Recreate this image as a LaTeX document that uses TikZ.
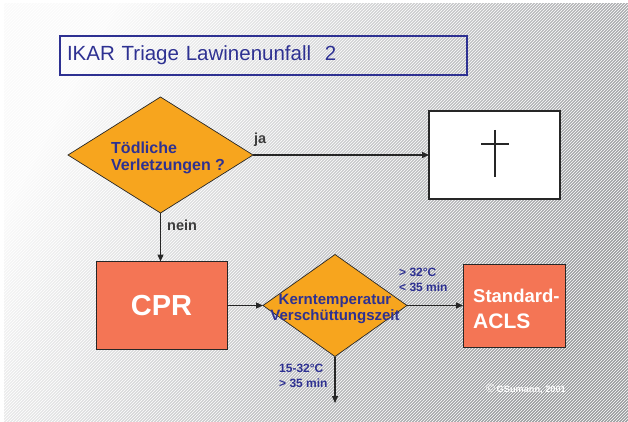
\documentclass[tikz,border=0pt]{standalone}
\usepackage{fontspec}
\setmainfont{Liberation Sans}
\usetikzlibrary{shapes.geometric,arrows.meta,patterns}
\definecolor{titelblau}{HTML}{2E3192}
\definecolor{raute}{HTML}{F7A51E}
\definecolor{lachs}{HTML}{F47555}
\definecolor{linie}{HTML}{262626}
\definecolor{hellgrau}{HTML}{FAFAFA}
\definecolor{dunkelgrau}{HTML}{9A9C9F}

\begin{document}
\begin{tikzpicture}[x=1pt,y=-1pt]
  \tikzset{DecisionStyle/.style = {
  shape = diamond,
  fill = raute,
  draw = linie,
  line width = 0.7pt,
  inner sep = 0pt,
  outer sep = 0pt},
  BoxStyle/.style = {
  shape = rectangle,
  fill = lachs,
  draw = linie,
  line width = 0.9pt,
  outer sep = 0pt,
  text = white,
  font = \bfseries},
  QuestionStyle/.style = {
  text = titelblau,
  inner sep = 0pt,
  font = \bfseries},
  PfeilStyle/.style = {
  draw = linie,
  line width = 1.3pt,
  -{Triangle[length=7pt,width=6pt]}},
  AstStyle/.style = {
  text = linie!90,
  inner sep = 0pt,
  font = \bfseries\fontsize{14.5}{16}\selectfont}}
  % Hintergrund
  \fill[white] (0,0) rectangle (628,422);
  \shade[top color=hellgrau, bottom color=dunkelgrau, shading angle=62] (4,4) rectangle (628,422);
  \fill[pattern=north east lines, pattern color=white, fill opacity=0.22] (4,4) rectangle (628,422);
  % Titel
  \node[draw=titelblau, line width=1.3pt, minimum width=407pt, minimum height=39pt,
        text width=393pt, inner xsep=7pt, align=left, text=titelblau,
        font=\fontsize{20.5}{22}\selectfont] (titel) at (263.5,55.5) {IKAR Triage Lawinenunfall\ \ 2};
  % Knoten
  \node[DecisionStyle, minimum width=185pt, minimum height=116pt] (toedlich) at (160.5,155) {};
  \node[QuestionStyle, anchor=west, align=left, font=\bfseries\fontsize{16}{17.7}\selectfont] (toedlichtext) at (111,158) {Tödliche\\Verletzungen ?};
  \node[draw=linie, line width=1.1pt, fill=white, minimum width=131pt, minimum height=88pt, outer sep=0pt] (tot) at (494.5,155) {};
  \node[BoxStyle, minimum width=131pt, minimum height=88pt, font=\bfseries\fontsize{29}{30}\selectfont] (cpr) at (161.5,305.5) {CPR};
  \node[DecisionStyle, minimum width=144pt, minimum height=102pt] (kern) at (335,305.5) {};
  \node[QuestionStyle, align=center, font=\bfseries\fontsize{15}{16}\selectfont] (kerntext) at (335,309) {Kerntemperatur\\Verschüttungszeit};
  \node[BoxStyle, minimum width=102pt, minimum height=83pt] (acls) at (514,305.5) {};
  \node[anchor=west, inner sep=0pt, text=white, align=left, font=\bfseries\fontsize{18.5}{25.6}\selectfont] (aclstext) at (473,309)
    {Standard-\\{\fontsize{21}{25.6}\selectfont ACLS}};
  \coordinate (weiter) at (335,403);
  % Kreuz
  \draw[linie, line width=2pt] (495,130) -- (495,177);
  \draw[linie, line width=2pt] (481,144) -- (509,144);
  % Verbindungen
  \draw[PfeilStyle] (toedlich.east) -- (tot.west);
  \draw[PfeilStyle] (toedlich.south) -- (toedlich.south |- cpr.north);
  \draw[PfeilStyle] (cpr.east) -- (kern.west);
  \draw[PfeilStyle] (kern.east) -- (acls.west);
  \draw[PfeilStyle] (kern.south) -- (weiter);
  % Beschriftungen
  \node[AstStyle, anchor=base west] (ja) at (254,143) {ja};
  \node[AstStyle, anchor=base west] (nein) at (167,230) {nein};
  \node[QuestionStyle, anchor=west, align=left, font=\bfseries\fontsize{12}{14.5}\selectfont] (warm) at (399,280) {> 32°C\\< 35 min};
  \node[QuestionStyle, anchor=west, align=left, font=\bfseries\fontsize{12}{15.5}\selectfont] (kalt) at (279,376) {15-32°C\\> 35 min};
  \node[anchor=base west, inner sep=0pt, text=white] (copy) at (486,392)
    {{\fontsize{12}{12}\selectfont ©}\,{\bfseries\fontsize{9.2}{10}\selectfont GSumann, 2001}};
\end{tikzpicture}
\end{document}
